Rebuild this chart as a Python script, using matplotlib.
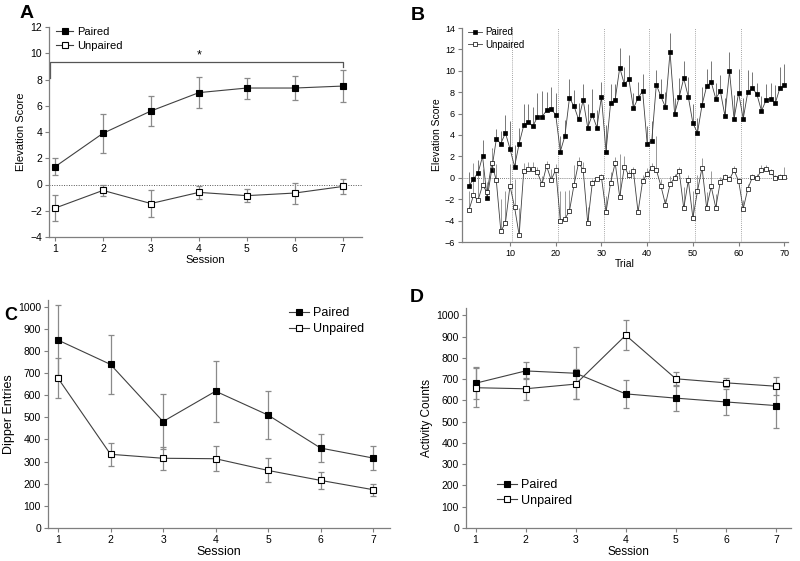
import matplotlib
matplotlib.use("Agg")
import matplotlib.pyplot as plt
import numpy as np

plt.rcParams['font.family'] = ['Liberation Sans', 'DejaVu Sans']

# ---------------- Data ----------------
sessions = [1, 2, 3, 4, 5, 6, 7]

# Panel A: Elevation score by session
a_paired = [1.35, 3.9, 5.6, 7.0, 7.35, 7.35, 7.5]
a_paired_err = [0.65, 1.5, 1.15, 1.2, 0.8, 0.9, 1.2]
a_unpaired = [-1.8, -0.45, -1.45, -0.6, -0.85, -0.65, -0.15]
a_unpaired_err = [1.0, 0.45, 1.05, 0.5, 0.5, 0.8, 0.55]

# Panel B: Elevation score by trial
trials = list(range(1, 71))
b_paired = [-0.8, -0.1, 0.45, 2.0, -1.9, 0.75, 3.6, 3.2, 4.2, 2.7,
            1.05, 3.2, 4.9, 5.2, 4.8, 5.7, 5.7, 6.3, 6.4, 5.9,
            2.45, 3.9, 7.45, 6.7, 5.45, 7.25, 4.7, 5.9, 4.7, 7.55,
            2.45, 7.0, 7.3, 10.3, 8.75, 9.2, 6.5, 7.45, 8.1, 3.2,
            3.45, 8.7, 7.6, 6.6, 11.75, 6.0, 7.55, 9.3, 7.55, 5.1,
            4.2, 6.8, 8.55, 8.95, 7.4, 8.1, 5.8, 9.95, 5.5, 7.95,
            5.5, 8.0, 8.4, 7.8, 6.25, 7.25, 7.4, 6.95, 8.35, 8.65]
b_paired_err = [1.3, 1.4, 1.2, 1.5, 1.0, 2.0, 1.0, 1.2, 1.7, 2.6,
                2.0, 1.5, 2.0, 1.7, 1.8, 2.2, 2.4, 1.7, 2.1, 2.0,
                1.5, 1.5, 1.8, 1.5, 1.5, 1.5, 2.2, 2.4, 1.6, 1.4,
                2.5, 1.8, 1.5, 1.8, 1.6, 2.3, 1.4, 1.5, 1.6, 1.6,
                1.9, 1.4, 1.6, 1.4, 1.8, 1.5, 1.8, 1.6, 1.9, 1.8,
                1.4, 1.7, 1.6, 2.0, 1.5, 1.5, 1.7, 1.8, 2.2, 2.2,
                2.0, 2.1, 1.5, 1.1, 1.4, 1.5, 1.5, 1.7, 2.0, 2.0]
b_unpaired = [-3.05, -1.65, -2.1, -0.7, -1.35, 1.4, -0.25, -5.0, -4.2, -0.75,
              -2.75, -5.35, 0.6, 0.8, 0.8, 0.5, -0.6, 1.1, -0.2, 0.75,
              -4.0, -3.85, -3.1, -0.65, 1.4, 0.75, -4.25, -0.45, -0.15, 0.05,
              -3.2, -0.45, 1.4, -1.8, 1.0, 0.25, 0.6, -3.2, -0.3, 0.35,
              0.95, 0.75, -0.75, -2.5, -0.6, 0.0, 0.6, -2.85, -0.25, -3.75,
              -1.25, 0.95, -2.8, -0.8, -2.8, -0.35, 0.05, -0.15, 0.7, -0.3,
              -2.9, -1.05, 0.05, 0.0, 0.7, 0.8, 0.55, 0.0, 0.05, 0.05]
b_unpaired_err = [1.8, 3.0, 2.5, 1.5, 1.0, 1.3, 1.5, 3.0, 3.0, 2.0,
                  2.6, 2.5, 0.8, 0.7, 0.7, 0.5, 0.8, 0.5, 1.0, 0.5,
                  2.8, 2.6, 2.0, 1.8, 0.5, 0.7, 1.5, 0.3, 0.2, 0.3,
                  1.5, 1.0, 0.5, 4.0, 1.0, 0.5, 0.4, 0.3, 0.6, 0.6,
                  0.4, 3.2, 0.6, 0.5, 0.8, 0.4, 0.4, 2.0, 0.5, 2.5,
                  1.5, 0.9, 1.5, 1.4, 1.3, 0.4, 0.3, 0.3, 0.4, 0.3,
                  0.8, 0.5, 0.3, 0.4, 0.5, 0.4, 0.3, 0.3, 0.3, 1.0]

# Panel C: Dipper entries
c_paired = [849, 739, 481, 618, 510, 361, 316]
c_paired_err = [160, 132, 125, 138, 108, 63, 55]
c_unpaired = [677, 333, 315, 313, 260, 215, 173]
c_unpaired_err = [90, 52, 52, 57, 54, 37, 27]

# Panel D: Activity counts
d_paired = [681, 739, 728, 631, 611, 593, 576]
d_paired_err = [75, 40, 123, 65, 60, 63, 105]
d_unpaired = [660, 655, 677, 907, 702, 683, 667]
d_unpaired_err = [92, 53, 70, 70, 32, 22, 43]

# ---------------- Style ----------------
SPINE = '#7f7f7f'
LINE = '#404040'
ERR = '#8a8a8a'

W, H = 800, 561
fig = plt.figure(figsize=(8.0, 5.61), dpi=100)


def make_ax(l, r, t, b):
    return fig.add_axes([l / W, 1 - b / H, (r - l) / W, (b - t) / H])


def style(ax, fs=7.5):
    for s in ['top', 'right']:
        ax.spines[s].set_visible(False)
    for s in ['left', 'bottom']:
        ax.spines[s].set_color(SPINE)
        ax.spines[s].set_linewidth(0.9)
    ax.tick_params(direction='out', length=3, width=0.8, color=SPINE,
                   labelsize=fs, pad=2)


def series(ax, x, y, e, filled, ms=4.5, capsize=2.5):
    ax.errorbar(x, y, yerr=e, fmt='none', ecolor=ERR, elinewidth=0.9,
                capsize=capsize, capthick=0.9, zorder=2)
    ax.plot(x, y, '-', color=LINE, lw=0.8, marker='s', ms=ms,
            mfc='black' if filled else 'white', mec='black', mew=0.8,
            zorder=3, label='Paired' if filled else 'Unpaired')


# ---------------- Panel A ----------------
axA = make_ax(49, 362, 27, 237)
style(axA)
axA.axhline(0, color='#555555', lw=0.7, ls=(0, (1, 1.5)), zorder=1)
series(axA, sessions, a_paired, a_paired_err, True)
series(axA, sessions, a_unpaired, a_unpaired_err, False)
axA.plot([0.9, 0.9, 7, 7], [8.1, 9.3, 9.3, 8.95], color='#555555', lw=0.9)
axA.text(4, 9.35, '*', ha='center', va='bottom', fontsize=9)
axA.set_xlim(0.875, 7.4)
axA.set_ylim(-4, 12)
axA.set_xticks(sessions)
axA.set_yticks(range(-4, 13, 2))
axA.set_xlabel('Session', fontsize=8, labelpad=1)
axA.set_ylabel('Elevation Score', fontsize=8, labelpad=3)
axA.legend(loc='upper left', bbox_to_anchor=(0.0, 1.03), frameon=False,
           fontsize=8, handlelength=1.6, handletextpad=0.3, labelspacing=0.35,
           borderaxespad=0.2)
fig.text(20 / W, 1 - 13 / H, 'A', fontsize=14, fontweight='bold', va='center')

# ---------------- Panel B ----------------
axB = make_ax(462, 788, 28, 242)
style(axB, fs=6.5)
axB.axhline(0, color='#555555', lw=0.6, ls=(0, (1, 1.5)), zorder=1)
for xv in [10.5, 20.5, 30.5, 40.5, 50.5, 60.5]:
    axB.axvline(xv, color='#888888', lw=0.6, ls=(0, (1, 1.5)), zorder=1)
zeros = [0] * len(trials)
axB.errorbar(trials, b_paired, yerr=[zeros, b_paired_err], fmt='none',
             ecolor='#777777', elinewidth=0.7, capsize=0, zorder=2)
axB.errorbar(trials, b_unpaired, yerr=[zeros, b_unpaired_err], fmt='none',
             ecolor='#999999', elinewidth=0.7, capsize=0, zorder=2)
axB.plot(trials, b_paired, '-', color=LINE, lw=0.6, marker='s', ms=3.0,
         mfc='black', mec='black', mew=0.5, zorder=3, label='Paired')
axB.plot(trials, b_unpaired, '-', color=LINE, lw=0.6, marker='s', ms=3.0,
         mfc='white', mec='black', mew=0.5, zorder=3, label='Unpaired')
axB.set_xlim(-0.5, 70.8)
axB.set_ylim(-6, 14)
axB.set_xticks(range(10, 71, 10))
axB.set_yticks(range(-6, 15, 2))
axB.set_xlabel('Trial', fontsize=7.5, labelpad=1)
axB.set_ylabel('Elevation Score', fontsize=7.5, labelpad=2)
axB.legend(loc='upper left', bbox_to_anchor=(0.0, 1.03), frameon=False,
           fontsize=7, handlelength=1.5, handletextpad=0.3, labelspacing=0.25,
           borderaxespad=0.2)
fig.text(411 / W, 1 - 15 / H, 'B', fontsize=14, fontweight='bold', va='center')

# ---------------- Panel C ----------------
axC = make_ax(48, 390, 300, 528)
style(axC, fs=7.5)
series(axC, sessions, c_paired, c_paired_err, True, ms=5)
series(axC, sessions, c_unpaired, c_unpaired_err, False, ms=5)
axC.set_xlim(0.81, 7.32)
axC.set_ylim(0, 1030)
axC.set_xticks(sessions)
axC.set_yticks(range(0, 1001, 100))
axC.set_xlabel('Session', fontsize=9, labelpad=1)
axC.set_ylabel('Dipper Entries', fontsize=9, labelpad=2)
axC.legend(loc='upper left', bbox_to_anchor=(0.69, 0.99), frameon=False,
           fontsize=9, handlelength=1.6, handletextpad=0.3, labelspacing=0.3,
           borderaxespad=0.0)
fig.text(4 / W, 1 - 315 / H, 'C', fontsize=13, fontweight='bold', va='center')

# ---------------- Panel D ----------------
axD = make_ax(466, 791, 308, 528)
style(axD, fs=7.5)
series(axD, sessions, d_paired, d_paired_err, True, ms=4.5)
series(axD, sessions, d_unpaired, d_unpaired_err, False, ms=4.5)
axD.set_xlim(0.81, 7.3)
axD.set_ylim(0, 1035)
axD.set_xticks(sessions)
axD.set_yticks(range(0, 1001, 100))
axD.set_xlabel('Session', fontsize=8.5, labelpad=1)
axD.set_ylabel('Activity Counts', fontsize=8.5, labelpad=2)
axD.legend(loc='upper left', bbox_to_anchor=(0.08, 0.245), frameon=False,
           fontsize=9, handlelength=1.6, handletextpad=0.3, labelspacing=0.3,
           borderaxespad=0.0)
fig.text(410 / W, 1 - 297 / H, 'D', fontsize=14, fontweight='bold', va='center')

fig.savefig('out.png', dpi=100)
